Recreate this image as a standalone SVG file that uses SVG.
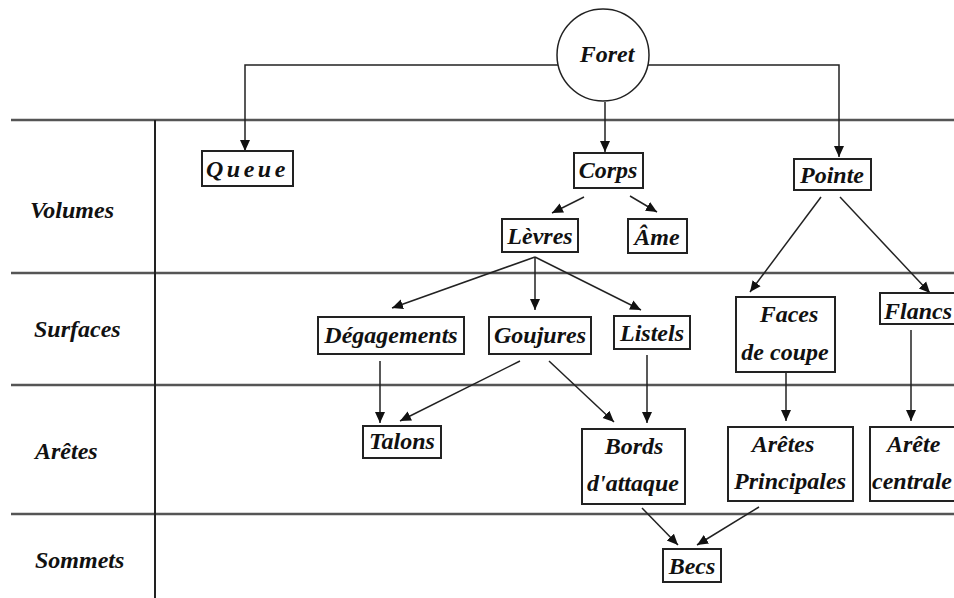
<svg xmlns="http://www.w3.org/2000/svg" width="954" height="598" viewBox="0 0 954 598">
<defs>
<marker id="ah" markerUnits="userSpaceOnUse" markerWidth="12" markerHeight="12" viewBox="0 0 12 12" refX="11" refY="6" orient="auto">
<path d="M0,1 L11,6 L0,11 Z" fill="#111"/>
</marker>
<style>
text{font-family:"Liberation Serif","Times New Roman",serif;font-weight:bold;font-style:italic;font-size:24px;fill:#111}
.c{text-anchor:middle}
.box{fill:#fff;stroke:#222;stroke-width:2}
.grid line{stroke:#555;stroke-width:2.5}
.conn line,.conn path{stroke:#222;stroke-width:1.5;fill:none;marker-end:url(#ah)}
</style>
</defs>
<rect width="954" height="598" fill="#fff"/>
<g class="grid">
<line x1="11" y1="120" x2="954" y2="120"/>
<line x1="11" y1="273" x2="954" y2="273"/>
<line x1="11" y1="385" x2="954" y2="385"/>
<line x1="11" y1="514" x2="954" y2="514"/>
<line x1="155" y1="120" x2="155" y2="598" style="stroke:#222;stroke-width:2"/>
</g>
<g id="labels">
<text x="30" y="218">Volumes</text>
<text x="34" y="337">Surfaces</text>
<text x="35" y="459">Arêtes</text>
<text x="35" y="568">Sommets</text>
</g>
<g class="conn">
<path d="M558,65 H245 V151"/>
<path d="M648,65 H839 V157"/>
<line x1="605" y1="102" x2="605" y2="152"/>
<line x1="584" y1="197" x2="552" y2="213"/>
<line x1="630" y1="196" x2="657" y2="212"/>
<line x1="535" y1="257" x2="392" y2="308"/>
<line x1="535" y1="257" x2="535" y2="310"/>
<line x1="535" y1="257" x2="641" y2="310"/>
<line x1="821" y1="197" x2="750" y2="292"/>
<line x1="840" y1="197" x2="930" y2="293"/>
<line x1="380" y1="361" x2="380" y2="423"/>
<line x1="520" y1="361" x2="400" y2="421"/>
<line x1="549" y1="361" x2="614" y2="422"/>
<line x1="647" y1="355" x2="647" y2="423"/>
<line x1="786" y1="368" x2="786" y2="421"/>
<line x1="911" y1="330" x2="911" y2="421"/>
<line x1="642" y1="508" x2="678" y2="545"/>
<line x1="759" y1="507" x2="697" y2="545"/>
</g>
<g id="foret"><circle cx="603" cy="55" r="46" fill="#fff" stroke="#222" stroke-width="1.5"/><text class="c" x="607" y="62">Foret</text></g>
<g id="queue"><rect class="box" x="202" y="151" width="91" height="35"/><text x="206" y="177" style="letter-spacing:3.5px">Queue</text></g>
<g id="corps"><rect class="box" x="574" y="153" width="69" height="35"/><text class="c" x="608" y="178">Corps</text></g>
<g id="pointe"><rect class="box" x="794" y="159" width="77" height="31"/><text class="c" x="832" y="183">Pointe</text></g>
<g id="levres"><rect class="box" x="502" y="219" width="76" height="33"/><text class="c" x="540" y="244">Lèvres</text></g>
<g id="ame"><rect class="box" x="628" y="219" width="59" height="34"/><text class="c" x="657" y="245">Âme</text></g>
<g id="degagements"><rect class="box" x="318" y="317" width="146" height="37"/><text class="c" x="391" y="343">Dégagements</text></g>
<g id="goujures"><rect class="box" x="489" y="317" width="102" height="37"/><text class="c" x="540" y="343">Goujures</text></g>
<g id="listels"><rect class="box" x="614" y="316" width="76" height="33"/><text class="c" x="652" y="341">Listels</text></g>
<g id="faces"><rect class="box" x="736" y="297" width="99" height="75"/><text class="c" x="789" y="322">Faces</text><text class="c" x="785" y="360">de coupe</text></g>
<g id="flancs"><rect class="box" x="880" y="293" width="80" height="31"/><text x="884" y="319">Flancs</text></g>
<g id="talons"><rect class="box" x="363" y="426" width="78" height="32"/><text class="c" x="402" y="449">Talons</text></g>
<g id="bords"><rect class="box" x="582" y="429" width="103" height="75"/><text class="c" x="634" y="454">Bords</text><text class="c" x="633" y="491">d'attaque</text></g>
<g id="aretesp"><rect class="box" x="728" y="427" width="125" height="74"/><text class="c" x="783" y="452">Arêtes</text><text class="c" x="790" y="489">Principales</text></g>
<g id="aretec"><rect class="box" x="870" y="427" width="90" height="74"/><text x="887" y="452">Arête</text><text x="872" y="489">centrale</text></g>
<g id="becs"><rect class="box" x="663" y="549" width="58" height="33"/><text class="c" x="692" y="574">Becs</text></g>
</svg>
